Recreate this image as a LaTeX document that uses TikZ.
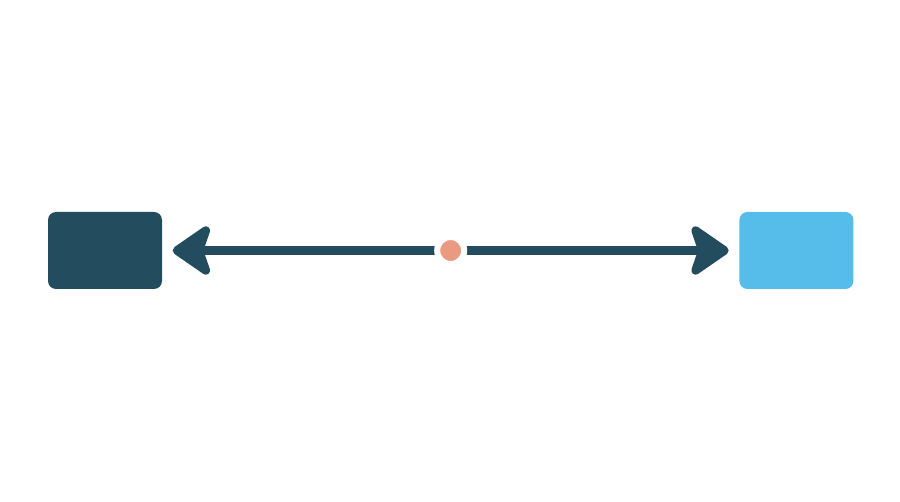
\documentclass[tikz,border=0pt]{standalone}
\usetikzlibrary{arrows.meta, positioning}
\definecolor{darkteal}{HTML}{234C5E}
\definecolor{skyblue}{HTML}{56BDEB}
\definecolor{salmon}{HTML}{E99A80}

\begin{document}
\begin{tikzpicture}[
  box/.style={rectangle, rounded corners=0.08cm, minimum width=1.14cm, minimum height=0.77cm, inner sep=0pt},
  dot/.style={circle, fill=salmon, draw=white, line width=0.06cm, minimum size=0.27cm, inner sep=0pt},
  tip/.tip={Stealth[length=0.44cm, width=0.6cm, inset=0.1cm, round]}
]
\useasboundingbox (0,0) rectangle (9,5.02);

\node[box, fill=darkteal] (left) at (1.05,2.515) {};
\node[box, fill=skyblue, right=5.76cm of left] (right) {};

\draw[darkteal, line width=0.095cm, shorten <=0.1cm, shorten >=0.1cm, tip-tip]
  (left) -- (right) node[dot, midway] (mid) {};

\end{tikzpicture}
\end{document}
